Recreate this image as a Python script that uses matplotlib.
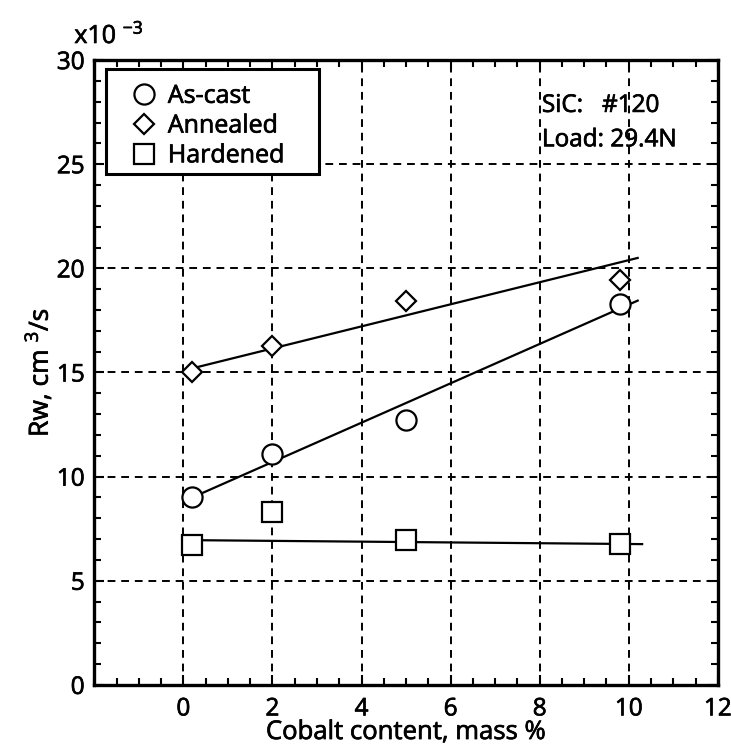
import matplotlib
matplotlib.use("Agg")
import matplotlib.pyplot as plt
import matplotlib.patheffects as pe
from matplotlib.ticker import MultipleLocator
from matplotlib.lines import Line2D
from matplotlib.patches import Rectangle

plt.rcParams['font.family'] = ['Open Sans', 'DejaVu Sans']
plt.rcParams['mathtext.fontset'] = 'custom'
plt.rcParams['mathtext.rm'] = 'Open Sans'
plt.rcParams['mathtext.it'] = 'Open Sans'

# data (Rw in 10^-3 cm^3/s)
cobalt = [0.2, 2.0, 5.0, 9.8]
as_cast = [9.0, 11.1, 12.7, 18.3]
annealed = [15.0, 16.25, 18.45, 19.45]
hardened = [6.7, 8.3, 6.95, 6.75]

# fitted lines
fit_x = [0.2, 10.2]
as_cast_fit = [9.0, 18.45]
annealed_fit = [15.2, 20.5]
hard_fit_x = [0.2, 10.3]
hardened_fit = [6.95, 6.76]

fig = plt.figure(figsize=(7.31, 7.51), dpi=100)
ax = fig.add_axes([0.129, 0.088, 0.853, 0.832])

ax.plot(fit_x, as_cast_fit, color='k', lw=1.6, zorder=3)
ax.plot(fit_x, annealed_fit, color='k', lw=1.6, zorder=3)
ax.plot(hard_fit_x, hardened_fit, color='k', lw=1.6, zorder=3)

mk = dict(linestyle='none', mfc='white', mec='k', mew=1.6, zorder=4)
ax.plot(cobalt, as_cast, marker='o', ms=14.5, **mk)
ax.plot(cobalt, annealed, marker='D', ms=10.2, **mk)
ax.plot(cobalt, hardened, marker='s', ms=14.5, **mk)

ax.set_xlim(-2, 12)
ax.set_ylim(0, 30)
ax.set_xticks([0, 2, 4, 6, 8, 10, 12])
ax.set_yticks([0, 5, 10, 15, 20, 25, 30])
ax.xaxis.set_minor_locator(MultipleLocator(0.5))
ax.yaxis.set_minor_locator(MultipleLocator(1))
ax.tick_params(which='both', direction='in', top=True, right=True, width=1.5, labelsize=17.5)
ax.tick_params(which='major', length=7)
ax.tick_params(which='minor', length=5)
ax.tick_params(axis='x', pad=9)
ax.tick_params(axis='y', pad=7)
for s in ax.spines.values():
    s.set_linewidth(2.4)

ax.grid(True, which='major', color='k', lw=1.4, linestyle=(0, (4, 3)))
ax.set_axisbelow(True)

ax.set_xlabel("Cobalt content, mass %", fontsize=18.5, labelpad=-1)
ax.set_ylabel(r"Rw, cm $^3$/s", fontsize=19, labelpad=2)

ax.text(-0.032, 1.027, r"x10 $^{-3}$", transform=ax.transAxes, fontsize=18, va='baseline', ha='left')

ax.text(8.05, 27.8, "SiC:   #120", fontsize=17.5, va='center')
ax.text(8.05, 26.15, "Load: 29.4N", fontsize=17.5, va='center')

# legend box drawn separately so its padding matches the original
ax.add_patch(Rectangle((0.0193, 0.8176), 0.3403, 0.168, transform=ax.transAxes,
                       facecolor='white', edgecolor='k', lw=2.2, zorder=5))
handles = [
    Line2D([], [], marker='o', ms=14.5, **mk),
    Line2D([], [], marker='D', ms=10.2, **mk),
    Line2D([], [], marker='s', ms=14.5, **mk),
]
leg = ax.legend(handles, ["As-cast", "Annealed", "Hardened"], loc='upper left',
                bbox_to_anchor=(0.053, 0.962), fontsize=18, frameon=False,
                handlelength=1.3, handletextpad=0.32,
                labelspacing=0.19, borderpad=0, borderaxespad=0)
leg.set_zorder(6)

# the original lettering is a bit heavier than Open Sans regular
stroke = [pe.withStroke(linewidth=0.5, foreground='k')]
for t in fig.findobj(matplotlib.text.Text):
    t.set_path_effects(stroke)

fig.savefig("out.png", dpi=100)
